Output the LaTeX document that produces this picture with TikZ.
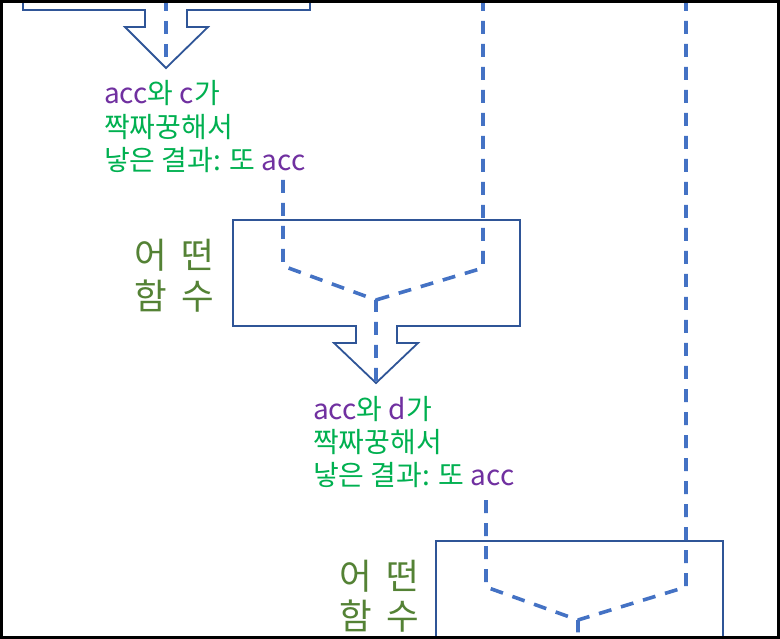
\documentclass[tikz,border=0pt]{standalone}
\usepackage{fontspec}
\setmainfont{Noto Sans CJK KR}
\newfontfamily\fnfont[WordSpace=1.9]{Noto Sans CJK KR}
\definecolor{boxblue}{HTML}{2F5597}
\definecolor{dashblue}{HTML}{4472C4}
\definecolor{txtpurple}{HTML}{7030A0}
\definecolor{txtgreen}{HTML}{00B050}
\definecolor{olivegreen}{HTML}{548235}
\tikzset{
  fnbox/.style={draw=boxblue, line width=1.8pt, line join=miter},
  flow/.style={draw=dashblue, line width=3.6pt, dash pattern=on 13pt off 10pt},
  pairtext/.style={text=txtgreen, font=\fontsize{28}{33}\selectfont, inner sep=0pt, anchor=base west},
  fntext/.style={text=olivegreen, font=\fnfont\fontsize{35.5}{40}\selectfont, inner sep=0pt, anchor=base west},
}
\newcommand{\pp}[1]{\textcolor{txtpurple}{#1}}
\begin{document}
\begin{tikzpicture}[x=1pt,y=-1pt]
\useasboundingbox (0,0) rectangle (780,639);
\begin{scope}
\clip (0,0) rectangle (780,639);
% top partial box
\draw[fnbox] (23,-20) -- (23,10) -- (145,10) -- (145,27) -- (125,27) -- (166,68) -- (208,27) -- (187,27) -- (187,10) -- (310,10) -- (310,-20);
% second box
\draw[fnbox] (233,220) -- (520,220) -- (520,326) -- (397,326) -- (397,343) -- (418,343) -- (376,383) -- (334,343) -- (356,343) -- (356,326) -- (233,326) -- cycle;
% third box
\draw[fnbox] (723,680) -- (723,541) -- (436,541) -- (436,680);
% named points of the flows
\coordinate (a0) at (166,-2);
\coordinate (a1) at (166,66);
\coordinate (b0) at (283,180);
\coordinate (b1) at (283,266);
\coordinate (bj) at (376,300);
\coordinate (b2) at (376,383);
\coordinate (r0) at (483,-2);
\coordinate (r1) at (483,268);
\coordinate (c0) at (486,500);
\coordinate (c1) at (486,587);
\coordinate (cj) at (578,620);
\coordinate (c2) at (578,660);
\coordinate (s0) at (686,-2);
\coordinate (s1) at (686,587);
\draw[flow] (a0) -- (a1);
\draw[flow] (b0) -- (b1) -- (bj) -- (b2);
\draw[flow] (r0) -- (r1) -- (bj);
\draw[flow] (c0) -- (c1) -- (cj) -- (c2);
\draw[flow] (s0) -- (s1) -- (cj);
% texts
\node[pairtext] (t1a) at (104,104) {\pp{acc}와 \pp{c}가};
\node[pairtext] (t1b) at (104,137.5) {짝짜꿍해서};
\node[pairtext] (t1c) at (104,171) {낳은 결과: 또 \pp{acc}};
\node[pairtext] (t2a) at (313,419) {\pp{acc}와 \pp{d}가};
\node[pairtext] (t2b) at (313,452) {짝짜꿍해서};
\node[pairtext] (t2c) at (313,485.5) {낳은 결과: 또 \pp{acc}};
\node[fntext] (f1a) at (134,269) {어 떤};
\node[fntext] (f1b) at (134,310) {함 수};
\node[fntext] (f2a) at (339,589) {어 떤};
\node[fntext] (f2b) at (339,629) {함 수};
\end{scope}
% frame
\draw[black, line width=3pt] (1.5,1.5) rectangle (778.5,637);
\end{tikzpicture}
\end{document}
